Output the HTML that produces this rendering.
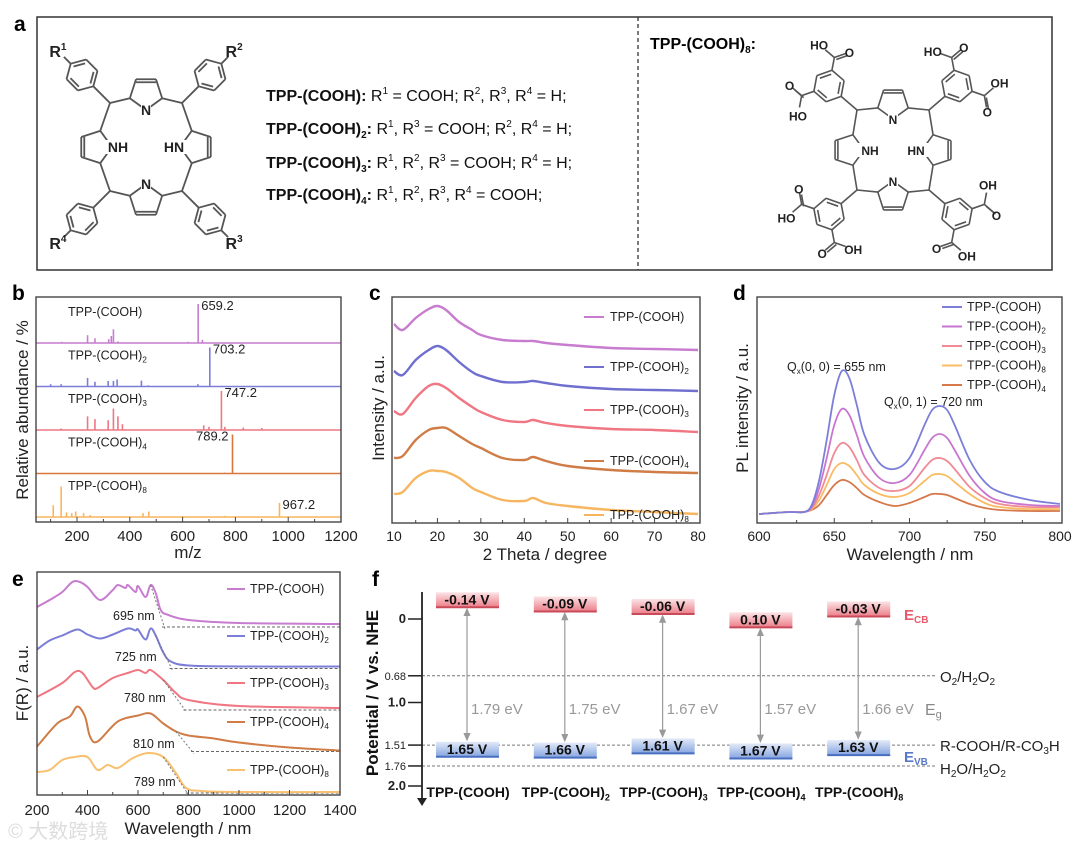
<!DOCTYPE html>
<html><head><meta charset="utf-8"><style>
html,body{margin:0;padding:0;background:#fff;}
svg{display:block;font-family:"Liberation Sans",Arial,sans-serif;}
</style></head><body>
<svg id="fig" width="1080" height="843" viewBox="0 0 1080 843" xmlns="http://www.w3.org/2000/svg">
<rect width="1080" height="843" fill="#fff"/>
<g>
<text x="14" y="31" font-size="21" font-weight="bold">a</text>
<rect x="37" y="17" width="1015" height="253" fill="none" stroke="#333" stroke-width="1.5"/>
<line x1="638" y1="17" x2="638" y2="270" stroke="#333" stroke-width="1.3" stroke-dasharray="4,3"/>
<g id="molL" stroke="#555" stroke-width="1.8" fill="none"></g>
<g id="molR" stroke="#555" stroke-width="1.6" fill="none"></g>
<g font-size="16" fill="#111">
<text x="266" y="101"><tspan font-weight="bold">TPP-(COOH):</tspan> R<tspan font-size="10" dy="-7">1</tspan><tspan dy="7"> = COOH;  R</tspan><tspan font-size="10" dy="-7">2</tspan><tspan dy="7">, R</tspan><tspan font-size="10" dy="-7">3</tspan><tspan dy="7">, R</tspan><tspan font-size="10" dy="-7">4</tspan><tspan dy="7"> = H;</tspan></text>
<text x="266" y="134"><tspan font-weight="bold">TPP-(COOH)</tspan><tspan font-weight="bold" font-size="10" dy="4">2</tspan><tspan font-weight="bold" dy="-4">:</tspan> R<tspan font-size="10" dy="-7">1</tspan><tspan dy="7">, R</tspan><tspan font-size="10" dy="-7">3</tspan><tspan dy="7"> = COOH;  R</tspan><tspan font-size="10" dy="-7">2</tspan><tspan dy="7">, R</tspan><tspan font-size="10" dy="-7">4</tspan><tspan dy="7"> = H;</tspan></text>
<text x="266" y="168"><tspan font-weight="bold">TPP-(COOH)</tspan><tspan font-weight="bold" font-size="10" dy="4">3</tspan><tspan font-weight="bold" dy="-4">:</tspan> R<tspan font-size="10" dy="-7">1</tspan><tspan dy="7">, R</tspan><tspan font-size="10" dy="-7">2</tspan><tspan dy="7">, R</tspan><tspan font-size="10" dy="-7">3</tspan><tspan dy="7"> = COOH;  R</tspan><tspan font-size="10" dy="-7">4</tspan><tspan dy="7"> = H;</tspan></text>
<text x="266" y="200"><tspan font-weight="bold">TPP-(COOH)</tspan><tspan font-weight="bold" font-size="10" dy="4">4</tspan><tspan font-weight="bold" dy="-4">:</tspan> R<tspan font-size="10" dy="-7">1</tspan><tspan dy="7">, R</tspan><tspan font-size="10" dy="-7">2</tspan><tspan dy="7">, R</tspan><tspan font-size="10" dy="-7">3</tspan><tspan dy="7">, R</tspan><tspan font-size="10" dy="-7">4</tspan><tspan dy="7"> = COOH;</tspan></text>
</g>
<text x="650" y="49" font-size="16" font-weight="bold">TPP-(COOH)<tspan font-size="10" dy="4">8</tspan><tspan dy="-4">:</tspan></text>
</g>
<g id="charts"></g>
</svg>
<script>
// ---------- data: panel b (mass spectra) ----------
const bNames = ["TPP-(COOH)","TPP-(COOH)2","TPP-(COOH)3","TPP-(COOH)4","TPP-(COOH)8"];
const bMainPeak = [659.2,703.2,747.2,789.2,967.2];
const bPeakMz1 = [659,240,268,320,330,338,675,142,620,355,100];
const bPeakAb1 = [100,20,12,10,18,35,8,3,3,4,2];
const bPeakMz2 = [703,240,268,318,338,352,444,658,100,140,470];
const bPeakAb2 = [100,22,12,14,14,18,15,6,6,6,3];
const bPeakMz3 = [747,240,268,318,338,355,372,680,700,760,830,900,140];
const bPeakAb3 = [100,35,28,25,55,35,15,12,8,8,6,5,4];
const bPeakMz4 = [789,760];
const bPeakAb4 = [100,2];
const bPeakMz5 = [967,140,110,160,180,195,225,250,450,472,600,760];
const bPeakAb5 = [36,78,30,12,10,14,10,5,10,14,3,3];
const bTicks = [200,400,600,800,1000,1200];
// ---------- data: panel c (XRD) ----------
const cTheta = [10,12,15,18,20,22,25,28,30,35,40,42,45,50,60,70,80];
const cS1 = [26,20,32,41,44,40,28,20,15,10,9,9,7,5,2,1,0];
const cS2 = [20,16,31,41,45,41,29,19,15,9,9,10,8,5,2,1,0];
const cS3 = [21,18,34,46,48,44,34,25,20,12,10,12,9,6,3,2,0];
const cS4 = [15,17,33,43,45,45,37,29,25,15,13,16,12,7,3,1,0];
const cS5 = [20,22,36,43,43,42,36,26,22,14,13,16,11,8,4,2,0];
const cTicks = [10,20,30,40,50,60,70,80];
// ---------- data: panel d (PL) ----------
const dLam = [600,620,630,635,640,645,650,655,660,665,670,680,690,700,710,715,720,725,730,740,750,760,780,800];
const dBlue   = [9,11,11,18,43,83,128,152,145,118,88,60,54,65,98,113,117,113,98,63,41,31,23,19];
const dPurple = [9,11,11,16,35,65,98,114,108,88,66,45,40,48,73,85,89,85,73,47,30,22,18,17];
const dPink   = [9,11,11,15,28,48,70,80,76,63,48,35,32,37,55,63,65,62,54,36,25,19,16,16];
const dOrange = [9,11,11,14,23,38,54,60,57,48,38,29,26,30,42,48,49,47,41,29,20,16,14,14];
const dBrown  = [9,11,11,13,18,28,38,43,41,35,28,21,17,20,26,29,29,28,25,19,15,13,12,12];
const dTicks = [600,650,700,750,800];
// ---------- data: panel e (Kubelka-Munk) ----------
const eX1 = [200,250,300,340,370,400,450,500,520,550,560,590,600,630,650,670,690,720,800,1000,1400];
const eY1 = [20,27,35,45,45,40,27,37,42,39,42,35,41,30,42,34,17,12,7,4,3];
const eX2 = [200,250,300,360,400,450,500,560,590,600,630,650,670,700,730,800,1000,1400];
const eY2 = [19,28,33,39,34,30,34,40,38,39,29,40,33,16,7,3,2,2];
const eX3 = [200,300,350,380,420,440,500,560,600,630,650,700,750,800,1000,1400];
const eY3 = [13,27,38,37,23,22,32,37,40,37,40,30,17,10,4,2];
const eX4 = [200,280,330,360,390,410,440,520,600,650,700,750,800,900,1000,1200,1400];
const eY4 = [5,28,35,45,35,15,10,30,36,38,28,20,16,13,9,4,1];
const eX5 = [200,250,300,350,400,440,480,520,580,640,700,750,790,850,1000,1400];
const eY5 = [21,23,33,36,36,23,28,25,35,40,36,20,5,2,1,1];
const eOnset = [695,725,780,810,789];
const eTicks = [200,400,600,800,1000,1200,1400];
// ---------- data: panel f (band positions) ----------
const fNames = ["TPP-(COOH)","TPP-(COOH)2","TPP-(COOH)3","TPP-(COOH)4","TPP-(COOH)8"];
const fCB = [-0.14,-0.09,-0.06,0.10,-0.03];
const fVB = [1.65,1.66,1.61,1.67,1.63];
const fEg = [1.79,1.75,1.67,1.57,1.66];
const fRefPot = [0.68,1.51,1.76];
const fTicks = [0,0.68,1.0,1.51,1.76,2.0];

const NS="http://www.w3.org/2000/svg";
const root=document.getElementById('charts');
function mk(tag,attrs,parent){const e=document.createElementNS(NS,tag);for(const k in attrs)e.setAttribute(k,attrs[k]);(parent||root).appendChild(e);return e;}
function smooth(p){let d="M"+p[0][0].toFixed(1)+","+p[0][1].toFixed(1);for(let i=0;i<p.length-1;i++){const p0=p[i-1]||p[i],p1=p[i],p2=p[i+1],p3=p[i+2]||p2;const c1=[p1[0]+(p2[0]-p0[0])/6,p1[1]+(p2[1]-p0[1])/6],c2=[p2[0]-(p3[0]-p1[0])/6,p2[1]-(p3[1]-p1[1])/6];d+="C"+c1[0].toFixed(1)+","+c1[1].toFixed(1)+" "+c2[0].toFixed(1)+","+c2[1].toFixed(1)+" "+p2[0].toFixed(1)+","+p2[1].toFixed(1);}return d;}
function label(parent,x,y,name,size,anchor,weight,fill){const t=mk('text',{x:x,y:y,'font-size':size,'text-anchor':anchor||'start','font-weight':weight||'normal',fill:fill||'#222'},parent);const m=name.match(/^(.*?)(\d)$/);if(m&&name.indexOf('(')>=0){t.textContent=m[1];const s=mk('tspan',{'font-size':size*0.65,dy:size*0.25},t);s.textContent=m[2];}else t.textContent=name;return t;}
function frame(g,x0,y0,x1,y1){mk('rect',{x:x0,y:y0,width:x1-x0,height:y1-y0,fill:'none',stroke:'#444','stroke-width':1.4},g);}

// ============ Panel b ============
(function(){
const g=mk('g',{});  
const X=v=>77+(v-200)*0.264;
const base=i=>517-(4-i)*43.5;
const cols=['#c77ccf','#7b7dd6','#ef7682','#d9773a','#f8b55f'];
const mzs=[bPeakMz1,bPeakMz2,bPeakMz3,bPeakMz4,bPeakMz5], abs=[bPeakAb1,bPeakAb2,bPeakAb3,bPeakAb4,bPeakAb5];
for(let i=0;i<5;i++){
 const b=base(i);
 const bl=mk('line',{x1:36,x2:341,y1:b,y2:b,stroke:cols[i],'stroke-width':1.6},g);
  
 for(let j=0;j<mzs[i].length;j++){
  const pk=mk('line',{x1:X(mzs[i][j]),x2:X(mzs[i][j]),y1:b,y2:b-abs[i][j]*0.39,stroke:cols[i],'stroke-width':1.6},g);
   
 }
 const t=label(g,68,b-27,bNames[i],12.5);
  
 const top=b-abs[i][0]*0.39;
 const pl=mk('text',{x:X(bMainPeak[i])+(i==3?-4:3),y:top+6,'font-size':13,'text-anchor':i==3?'end':'start',fill:'#222'},g);
 pl.textContent=bMainPeak[i].toFixed(1);
  
}
frame(g,36,297,341,522);
for(let v=100;v<=1100;v+=100){const tk=mk('line',{x1:X(v),x2:X(v),y1:522,y2:v%200==0?517:519,stroke:'#444'},g);}
bTicks.forEach(v=>{const t=mk('text',{x:X(v),y:541,'font-size':15,'text-anchor':'middle',fill:'#222'},g);t.textContent=v;});
const xt=mk('text',{x:188,y:558,'font-size':17,'text-anchor':'middle',fill:'#222'},g);xt.textContent='m/z';
const yt=mk('text',{x:0,y:0,'font-size':17,'text-anchor':'middle',fill:'#222',transform:'translate(28,410) rotate(-90)'},g);yt.textContent='Relative abundance / %';
const pl=mk('text',{x:12,y:300,'font-size':21,'font-weight':'bold'},g);pl.textContent='b';
})();

// ============ Panel c ============
(function(){
const g=mk('g',{});  
const X=v=>394+(v-10)*(304/70);
const base=i=>350+i*41;
const cols=['#c77ccf','#6f6fd0','#ef7682','#d07c47','#f8b55f'];
const S=[cS1,cS2,cS3,cS4,cS5];
for(let i=0;i<5;i++){
 const pts=cTheta.map((t,j)=>[X(t),base(i)-S[i][j]]);
 const p=mk('path',{d:smooth(pts),fill:'none',stroke:cols[i],'stroke-width':2.4,'stroke-linejoin':'round'},g);
  
 const ly=[317,367,410,461,515][i];
 const ll=mk('line',{x1:584,x2:604,y1:ly,y2:ly,stroke:cols[i],'stroke-width':2},g);
 const t=label(g,610,ly+4,bNames[i],12.5);
}
frame(g,392,297,700,523);
for(let v=15;v<80;v+=5){const tk=mk('line',{x1:X(v),x2:X(v),y1:523,y2:v%10==0?518:520,stroke:'#444'},g);}
cTicks.forEach(v=>{const t=mk('text',{x:X(v),y:541,'font-size':14,'text-anchor':'middle',fill:'#222'},g);t.textContent=v;});
const xt=mk('text',{x:545,y:560,'font-size':17,'text-anchor':'middle',fill:'#222'},g);xt.textContent='2 Theta / degree';
const yt=mk('text',{x:0,y:0,'font-size':17,'text-anchor':'middle',fill:'#222',transform:'translate(384,408) rotate(-90)'},g);yt.textContent='Intensity / a.u.';
const pl=mk('text',{x:369,y:300,'font-size':21,'font-weight':'bold'},g);pl.textContent='c';
})();

// ============ Panel d ============
(function(){
const g=mk('g',{});  
const X=v=>759+(v-600)*(301/200);
const Y=v=>523-v;
const S=[dBlue,dPurple,dPink,dOrange,dBrown];
const cols=['#7b7fd8','#c976d0','#f08a95','#f9bc63','#d6784a'];
const names=["TPP-(COOH)","TPP-(COOH)2","TPP-(COOH)3","TPP-(COOH)8","TPP-(COOH)4"];
for(let i=4;i>=0;i--){
 const pts=dLam.map((l,j)=>[X(l),Y(S[i][j])]);
 const p=mk('path',{d:smooth(pts),fill:'none',stroke:cols[i],'stroke-width':1.8},g);
  
}
for(let i=0;i<5;i++){
 const ly=307+i*19.5;
 const ll=mk('line',{x1:942,x2:962,y1:ly,y2:ly,stroke:cols[i],'stroke-width':2},g);
 const t=label(g,967,ly+4,names[i],12.5);
}
const a1=mk('text',{x:787,y:371,'font-size':12.5,fill:'#222'},g);a1.innerHTML='Q<tspan font-size="8" dy="3">x</tspan><tspan dy="-3">(0, 0) = 655 nm</tspan>';
const a2=mk('text',{x:884,y:406,'font-size':12.5,fill:'#222'},g);a2.innerHTML='Q<tspan font-size="8" dy="3">x</tspan><tspan dy="-3">(0, 1) = 720 nm</tspan>';
frame(g,757,297,1062,523);
for(let v=625;v<800;v+=25){const tk=mk('line',{x1:X(v),x2:X(v),y1:523,y2:v%50==0?518:520,stroke:'#444'},g);}
dTicks.forEach(v=>{const t=mk('text',{x:X(v),y:541,'font-size':14,'text-anchor':'middle',fill:'#222'},g);t.textContent=v;});
const xt=mk('text',{x:910,y:560,'font-size':17,'text-anchor':'middle',fill:'#222'},g);xt.textContent='Wavelength / nm';
const yt=mk('text',{x:0,y:0,'font-size':17,'text-anchor':'middle',fill:'#222',transform:'translate(748,408) rotate(-90)'},g);yt.textContent='PL intensity / a.u.';
const pl=mk('text',{x:733,y:300,'font-size':21,'font-weight':'bold'},g);pl.textContent='d';
})();

// ============ Panel e ============
(function(){
const g=mk('g',{});  
const X=v=>37+(v-200)*0.2525;
const base=i=>627+i*41.5;
const cols=['#c77ccf','#7b7dd6','#ef7682','#d07c47','#f8c06f'];
const XS=[eX1,eX2,eX3,eX4,eX5], YS=[eY1,eY2,eY3,eY4,eY5];
const lab=[[113,620],[115,661],[124,702],[133,748],[134,786]];
for(let i=0;i<5;i++){
 const b=base(i);
 const dl=mk('line',{x1:X(eOnset[i]),x2:340,y1:b,y2:b,stroke:'#666','stroke-width':1,'stroke-dasharray':'3,2'},g);
 const pts=XS[i].map((x,j)=>[X(x),b-YS[i][j]]);
 const p=mk('path',{d:smooth(pts),fill:'none',stroke:cols[i],'stroke-width':2},g);
  
 let j=0; while(j<XS[i].length-1 && XS[i][j+1]<=eOnset[i]-45) j++;
 const tx=X(XS[i][j]), ty=b-YS[i][j];
 const tl=mk('line',{x1:tx,y1:ty,x2:X(eOnset[i])+3,y2:b+2,stroke:'#777','stroke-width':1,'stroke-dasharray':'2,2'},g);
 const nl=mk('text',{x:lab[i][0],y:lab[i][1],'font-size':12.5,fill:'#222'},g);nl.textContent=eOnset[i]+' nm';
 const ly=[589,636,683,722,770][i];
 const ll=mk('line',{x1:227,x2:245,y1:ly,y2:ly,stroke:cols[i],'stroke-width':2},g);
 const t=label(g,250,ly+4,bNames[i],12.5);
}
frame(g,37,572,340,795);
for(let v=300;v<1400;v+=100){const tk=mk('line',{x1:X(v),x2:X(v),y1:795,y2:v%200==0?790:792,stroke:'#444'},g);}
eTicks.forEach(v=>{const t=mk('text',{x:X(v),y:815,'font-size':15,'text-anchor':'middle',fill:'#222'},g);t.textContent=v;});
const xt=mk('text',{x:188,y:834,'font-size':17,'text-anchor':'middle',fill:'#222'},g);xt.textContent='Wavelength / nm';
const yt=mk('text',{x:0,y:0,'font-size':17,'text-anchor':'middle',fill:'#222',transform:'translate(28,683) rotate(-90)'},g);yt.textContent='F(R) / a.u.';
const pl=mk('text',{x:12,y:586,'font-size':21,'font-weight':'bold'},g);pl.textContent='e';
const wm=mk('text',{x:8,y:838,'font-size':20,fill:'#ddd','font-family':'"Liberation Sans","Noto Sans CJK SC",sans-serif'},g);wm.textContent='© 大数跨境';
})();

// ============ Panel f ============
(function(){
const g=mk('g',{});  
const defs=mk('defs',{},g);
defs.innerHTML='<linearGradient id="gcb" x1="0" y1="0" x2="0" y2="1"><stop offset="0" stop-color="#fbe3e5"/><stop offset="1" stop-color="#ec7d88"/></linearGradient><linearGradient id="gvb" x1="0" y1="0" x2="0" y2="1"><stop offset="0" stop-color="#e2eaf8"/><stop offset="1" stop-color="#86a5e0"/></linearGradient><marker id="ah" markerWidth="8" markerHeight="8" refX="4" refY="4" orient="auto-start-reverse"><path d="M0,1 L7,4 L0,7 z" fill="#999"/></marker>';
const Y=v=>619+v*83.5;
const cx=i=>467+i*97.8;
const AX=422;
fRefPot.forEach(v=>{const l=mk('line',{x1:AX,x2:935,y1:Y(v),y2:Y(v),stroke:'#777','stroke-width':1,'stroke-dasharray':'3,2'},g);});
for(let i=0;i<5;i++){
 const x=cx(i),cb=Y(fCB[i]),vb=Y(fVB[i]);
 const r1=mk('rect',{x:x-31,y:cb-15,width:63,height:15,fill:'url(#gcb)'},g);
 const l1=mk('line',{x1:x-31,x2:x+32,y1:cb,y2:cb,stroke:'#c94b5a','stroke-width':2},g);
 const t1=mk('text',{x:x,y:cb-3,'font-size':14,'font-weight':'bold','text-anchor':'middle',fill:'#111'},g);t1.textContent=fCB[i].toFixed(2)+' V';
 const r2=mk('rect',{x:x-31,y:vb-15,width:63,height:15,fill:'url(#gvb)'},g);
 const l2=mk('line',{x1:x-31,x2:x+32,y1:vb,y2:vb,stroke:'#4a6fc0','stroke-width':2},g);
 const t2=mk('text',{x:x,y:vb-3,'font-size':14,'font-weight':'bold','text-anchor':'middle',fill:'#111'},g);t2.textContent=fVB[i].toFixed(2)+' V';
 const ar=mk('line',{x1:x,x2:x,y1:cb+4,y2:vb-19,stroke:'#999','stroke-width':1.2,'marker-start':'url(#ah)','marker-end':'url(#ah)'},g);
 const et=mk('text',{x:x+4,y:714,'font-size':15,fill:'#999'},g);et.textContent=fEg[i].toFixed(2)+' eV';
 const nt=label(g,x+1,797,fNames[i],14,'middle','bold','#111');
}
const ax=mk('line',{x1:AX,x2:AX,y1:592,y2:800,stroke:'#222','stroke-width':1.8},g);
const ah=mk('path',{d:'M417,798 L427,798 L422,806 z',fill:'#222'},g);
fTicks.forEach(v=>{const tk=mk('line',{x1:AX-14,x2:AX,y1:Y(v),y2:Y(v),stroke:'#222','stroke-width':1.5},g);
 const big=(v===0||v===1||v===2);const t=mk('text',{x:AX-16,y:Y(v)+4,'font-size':big?13:11,'font-weight':big?'bold':'normal','text-anchor':'end',fill:'#222'},g);t.textContent=(v===0?'0':(v===1||v===2)?v.toFixed(1):String(v));});
const yt=mk('text',{x:0,y:0,'font-size':17,'font-weight':'bold','text-anchor':'middle',fill:'#111',transform:'translate(378,693) rotate(-90)'},g);yt.textContent='Potential  / V vs. NHE';
const r0=mk('text',{x:940,y:682,'font-size':15,fill:'#222'},g);r0.innerHTML='O<tspan font-size="10" dy="3">2</tspan><tspan dy="-3">/H</tspan><tspan font-size="10" dy="3">2</tspan><tspan dy="-3">O</tspan><tspan font-size="10" dy="3">2</tspan>';
const r1=mk('text',{x:940,y:751,'font-size':15,fill:'#222'},g);r1.innerHTML='R-COOH/R-CO<tspan font-size="10" dy="3">3</tspan><tspan dy="-3">H</tspan>';
const r2=mk('text',{x:940,y:774,'font-size':15,fill:'#222'},g);r2.innerHTML='H<tspan font-size="10" dy="3">2</tspan><tspan dy="-3">O/H</tspan><tspan font-size="10" dy="3">2</tspan><tspan dy="-3">O</tspan><tspan font-size="10" dy="3">2</tspan>';
const e1=mk('text',{x:904,y:620,'font-size':15,fill:'#e85a6a','font-weight':'bold'},g);e1.innerHTML='E<tspan font-size="10" dy="3">CB</tspan>';
const e2=mk('text',{x:904,y:762,'font-size':15,fill:'#5a78c8','font-weight':'bold'},g);e2.innerHTML='E<tspan font-size="10" dy="3">VB</tspan>';
const e3=mk('text',{x:925,y:715,'font-size':16,fill:'#888'},g);e3.innerHTML='E<tspan font-size="11" dy="3">g</tspan>';
const pl=mk('text',{x:372,y:586,'font-size':21,'font-weight':'bold'},g);pl.textContent='f';
})();

// ============ Structures (panel a) ============
function porphyrin(gid,cx,cy,o,carboxy8){
 const g=document.getElementById(gid);
 const L=(x1,y1,x2,y2)=>{const l=mk('line',{x1:x1,y1:y1,x2:x2,y2:y2},g);};
 const T=(x,y,s,anchor)=>{const t=mk('text',{x:x,y:y,'font-size':o.fs,'text-anchor':anchor||'middle',fill:'#222',stroke:'none','font-weight':'bold'},g);t.textContent=s;return t;};
 const dirs=[[0,-1],[1,0],[0,1],[-1,0]];
 const alpha={};
 dirs.forEach((d,k)=>{
  const pd=(k%2==0)?o.pdV:o.pdH;
  const pcx=cx+d[0]*pd, pcy=cy+d[1]*pd;
  const phi=Math.atan2(-d[1],-d[0]);
  const v=[0,72,144,-144,-72].map(a=>{const r=phi+a*Math.PI/180;return [pcx+o.pr*Math.cos(r),pcy+o.pr*Math.sin(r)];});
  for(let m=0;m<5;m++){const a=v[m],b=v[(m+1)%5];L(a[0],a[1],b[0],b[1]);}
  const bx=(v[2][0]+v[3][0])/2,by=(v[2][1]+v[3][1])/2; const sh=0.22;
  L(v[2][0]+(pcx-bx)*sh,v[2][1]+(pcy-by)*sh,v[3][0]+(pcx-bx)*sh,v[3][1]+(pcy-by)*sh);
  alpha[k]=[v[1],v[4]];
  const nx=v[0][0],ny=v[0][1];
  const lab=(k==0||k==2)?'N':(k==3?'NH':'HN');
  const bg=mk('rect',{x:nx-(lab.length*5),y:ny-7,width:lab.length*10,height:14,fill:'#fff',stroke:'none'},g);
  T(k==3?nx+6:(k==1?nx-6:nx),ny+5,lab);
 });
 const mesos=[[-1,-1,0,3],[1,-1,0,1],[1,1,2,1],[-1,1,2,3]];
 const rl=['R1','R2','R3','R4'];
 mesos.forEach((m,idx)=>{
  const mx=cx+m[0]*o.mx, my=cy+m[1]*o.my;
  [m[2],m[3]].forEach(k=>{const c=alpha[k];let best=c[0];if(Math.hypot(c[1][0]-mx,c[1][1]-my)<Math.hypot(c[0][0]-mx,c[0][1]-my))best=c[1];L(mx,my,best[0],best[1]);});
  const hx=cx+m[0]*o.hx, hy=cy+m[1]*o.hy;
  const ang=Math.atan2(my-hy,mx-hx);
  const hv=[];for(let a=0;a<6;a++){const r=ang+a*Math.PI/3;hv.push([hx+o.hr*Math.cos(r),hy+o.hr*Math.sin(r)]);}
  for(let a=0;a<6;a++){const p=hv[a],q=hv[(a+1)%6];L(p[0],p[1],q[0],q[1]);if(a%2==1){const s=0.75;L(hx+(p[0]-hx)*s,hy+(p[1]-hy)*s,hx+(q[0]-hx)*s,hy+(q[1]-hy)*s);}}
  L(mx,my,hv[0][0],hv[0][1]);
  if(!carboxy8){
   const p=hv[3];const ex=p[0]-(hx-p[0])*0.6, ey=p[1]-(hy-p[1])*0.6;L(p[0],p[1],ex,ey);
   const t=mk('text',{x:ex+m[0]*6,y:ey+m[1]*6+6,'font-size':16,'text-anchor':'middle',fill:'#222',stroke:'none','font-weight':'bold'},g);
   t.innerHTML='R<tspan font-size="10" dy="-7">'+rl[idx][1]+'</tspan>';
  } else {
   [2,4].forEach(a=>{const p=hv[a];const ux=(p[0]-hx)/o.hr,uy=(p[1]-hy)/o.hr;const c=[p[0]+ux*13,p[1]+uy*13];L(p[0],p[1],c[0],c[1]);
    const r=Math.atan2(uy,ux);const o1=[c[0]+12*Math.cos(r+1.05),c[1]+12*Math.sin(r+1.05)],o2=[c[0]+12*Math.cos(r-1.05),c[1]+12*Math.sin(r-1.05)];
    L(c[0],c[1],o1[0],o1[1]);L(c[0]+2,c[1]+2,o1[0]+2,o1[1]+2);L(c[0],c[1],o2[0],o2[1]);
    const t1=mk('text',{x:o1[0]+4*Math.cos(r+1.05),y:o1[1]+4*Math.sin(r+1.05)+5,'font-size':12,'text-anchor':'middle',fill:'#222',stroke:'none','font-weight':'bold'},g);t1.textContent='O';
    const t2=mk('text',{x:o2[0]+8*Math.cos(r-1.05),y:o2[1]+8*Math.sin(r-1.05)+5,'font-size':12,'text-anchor':'middle',fill:'#222',stroke:'none','font-weight':'bold'},g);t2.textContent=(o2[0]<c[0])?'HO':'OH';
   });
  }
 });
}
porphyrin('molL',146,147,{pdV:54,pdH:51,pr:17,mx:36,my:44,hx:64,hy:72,hr:16,fs:14},false);
porphyrin('molR',893,150,{pdV:47,pdH:45,pr:16,mx:36,my:40,hx:64,hy:64,hr:16,fs:12},true);
</script>
</body></html>
